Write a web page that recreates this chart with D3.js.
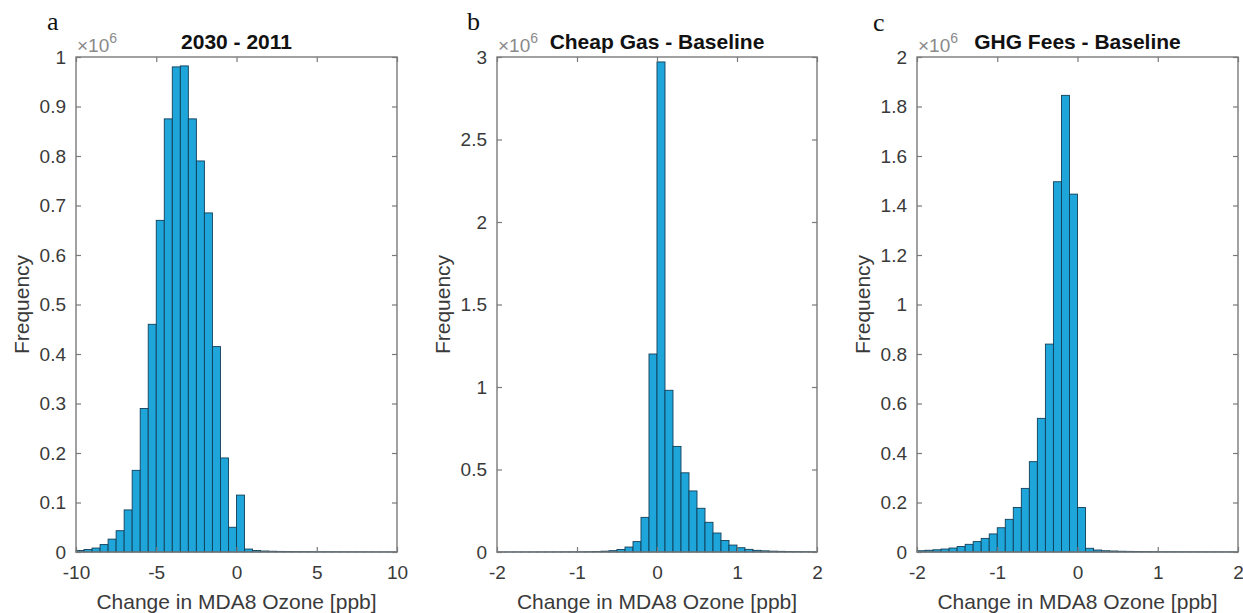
<!DOCTYPE html>
<html><head><meta charset="utf-8">
<script src="https://cdn.jsdelivr.net/npm/d3@7"></script>
<style>body{margin:0;background:#fff} svg{display:block}</style>
</head><body>
<svg id="chart" width="1243" height="613"></svg>
<script>
// ---------- data ----------
const panelLetters = ["a", "b", "c"];
const titles = ["2030 - 2011", "Cheap Gas - Baseline", "GHG Fees - Baseline"];
const xLabel = "Change in MDA8 Ozone [ppb]";
const yLabel = "Frequency";
const yExponent = "6";

const xDomainA = [-10, 10];
const xDomainB = [-2, 2];
const xDomainC = [-2, 2];
const yDomainA = [0, 1];
const yDomainB = [0, 3];
const yDomainC = [0, 2];

const xTicksA = [-10, -5, 0, 5, 10];
const xTicksB = [-2, -1, 0, 1, 2];
const xTicksC = [-2, -1, 0, 1, 2];
const yTicksA = [0, 0.1, 0.2, 0.3, 0.4, 0.5, 0.6, 0.7, 0.8, 0.9, 1];
const yTicksB = [0, 0.5, 1, 1.5, 2, 2.5, 3];
const yTicksC = [0, 0.2, 0.4, 0.6, 0.8, 1, 1.2, 1.4, 1.6, 1.8, 2];

// bin left edges
const binStartsA = [-10, -9.5, -9, -8.5, -8, -7.5, -7, -6.5, -6, -5.5, -5, -4.5, -4, -3.5, -3, -2.5, -2, -1.5, -1, -0.5,
  0, 0.5, 1, 1.5, 2, 2.5, 3, 3.5, 4, 4.5, 5, 5.5, 6, 6.5, 7, 7.5, 8, 8.5, 9, 9.5];
const binWidthA = 0.5;
const binStartsBC = [-2, -1.9, -1.8, -1.7, -1.6, -1.5, -1.4, -1.3, -1.2, -1.1, -1, -0.9, -0.8, -0.7, -0.6, -0.5, -0.4, -0.3, -0.2, -0.1,
  0, 0.1, 0.2, 0.3, 0.4, 0.5, 0.6, 0.7, 0.8, 0.9, 1, 1.1, 1.2, 1.3, 1.4, 1.5, 1.6, 1.7, 1.8, 1.9];
const binWidthBC = 0.1;

// frequencies (x10^6)
const countsA = [0.003, 0.005, 0.008, 0.015, 0.026, 0.043, 0.085, 0.165, 0.29, 0.46, 0.67, 0.875, 0.98, 0.982, 0.875, 0.79, 0.685, 0.415, 0.19, 0.05,
  0.115, 0.006, 0.003, 0.002, 0.0015, 0.0012, 0.001, 0.0009, 0.0008, 0.0007, 0.0006, 0.0005, 0.0005, 0.0004, 0.0004, 0.0003, 0.0003, 0.0002, 0.0002, 0.0002];
const countsB = [0.0003, 0.0003, 0.0004, 0.0004, 0.0005, 0.0006, 0.0007, 0.0008, 0.001, 0.0012, 0.0015, 0.002, 0.003, 0.005, 0.008, 0.015, 0.03, 0.063, 0.21, 1.2,
  2.97, 0.98, 0.64, 0.48, 0.37, 0.265, 0.18, 0.115, 0.07, 0.042, 0.026, 0.016, 0.01, 0.007, 0.005, 0.004, 0.003, 0.0025, 0.002, 0.0015];
const countsC = [0.005, 0.007, 0.009, 0.012, 0.016, 0.022, 0.031, 0.042, 0.055, 0.073, 0.098, 0.132, 0.18, 0.257, 0.365, 0.54, 0.84, 1.496, 1.845, 1.446,
  0.18, 0.015, 0.008, 0.005, 0.004, 0.003, 0.0025, 0.002, 0.0018, 0.0015, 0.0012, 0.001, 0.001, 0.0008, 0.0008, 0.0007, 0.0006, 0.0006, 0.0005, 0.0005];

// ---------- layout ----------
const panels = [
  {letter: panelLetters[0], title: titles[0], xDomain: xDomainA, yDomain: yDomainA, xTicks: xTicksA, yTicks: yTicksA, starts: binStartsA, width: binWidthA, counts: countsA, x0: 76, x1: 397, lx: 47, ly: 30},
  {letter: panelLetters[1], title: titles[1], xDomain: xDomainB, yDomain: yDomainB, xTicks: xTicksB, yTicks: yTicksB, starts: binStartsBC, width: binWidthBC, counts: countsB, x0: 497, x1: 817, lx: 467, ly: 30},
  {letter: panelLetters[2], title: titles[2], xDomain: xDomainC, yDomain: yDomainC, xTicks: xTicksC, yTicks: yTicksC, starts: binStartsBC, width: binWidthBC, counts: countsC, x0: 917, x1: 1238, lx: 873, ly: 31}
];
const yTop = 57, yBot = 552;
const axisColor = "#7a7a7a", textColor = "#3a3a3a";
const font = "'Liberation Sans', Arial, Helvetica, sans-serif";

const svg = d3.select("#chart");

panels.forEach(p => {
  const x = d3.scaleLinear().domain(p.xDomain).range([p.x0, p.x1]);
  const y = d3.scaleLinear().domain(p.yDomain).range([yBot, yTop]);
  const g = svg.append("g");

  const bins = p.starts.map((s, i) => ({x0: s, x1: s + p.width, v: p.counts[i]}));
  g.selectAll("rect.bar").data(bins).join("rect")
    .attr("class", "bar")
    .attr("x", d => x(d.x0))
    .attr("width", d => x(d.x1) - x(d.x0))
    .attr("y", d => y(d.v))
    .attr("height", d => yBot - y(d.v))
    .attr("fill", "#1ea5da")
    .attr("stroke", "#123f58")
    .attr("stroke-width", 0.9);

  // axes (ticks inward, mirrored on all four sides)
  const tl = 5;
  const bottom = g.append("g").attr("transform", `translate(0,${yBot})`)
    .call(d3.axisBottom(x).tickValues(p.xTicks).tickSize(-tl).tickPadding(14).tickFormat(d => String(d)));
  const top = g.append("g").attr("transform", `translate(0,${yTop})`)
    .call(d3.axisTop(x).tickValues(p.xTicks).tickSize(-tl).tickFormat(""));
  const left = g.append("g").attr("transform", `translate(${p.x0},0)`)
    .call(d3.axisLeft(y).tickValues(p.yTicks).tickSize(-tl).tickPadding(10).tickFormat(d => String(d)));
  const right = g.append("g").attr("transform", `translate(${p.x1},0)`)
    .call(d3.axisRight(y).tickValues(p.yTicks).tickSize(-tl).tickFormat(""));
  [bottom, top, left, right].forEach(a => {
    a.select(".domain").remove();
    a.selectAll(".tick line").attr("stroke", axisColor).attr("stroke-width", 1.2);
    a.selectAll("text").attr("fill", textColor).style("font-family", font).style("font-size", "19px");
  });
  g.append("rect").attr("x", p.x0).attr("y", yTop).attr("width", p.x1 - p.x0).attr("height", yBot - yTop)
    .attr("fill", "none").attr("stroke", axisColor).attr("stroke-width", 1.4);

  // title
  g.append("text").attr("x", (p.x0 + p.x1) / 2).attr("y", 49).attr("text-anchor", "middle")
    .style("font-family", font).style("font-size", "21px").style("font-weight", "bold").attr("fill", "#111")
    .text(p.title);
  // exponent
  const ex = g.append("text").attr("x", p.x0 + 1).attr("y", 52)
    .style("font-family", font).style("font-size", "19px").attr("fill", "#8a8a8a");
  ex.append("tspan").text("×10");
  ex.append("tspan").attr("dy", -9).style("font-size", "14px").text(yExponent);
  // axis labels
  g.append("text").attr("x", (p.x0 + p.x1) / 2).attr("y", 609).attr("text-anchor", "middle")
    .style("font-family", font).style("font-size", "21px").attr("fill", textColor).text(xLabel);
  g.append("text").attr("transform", `translate(${p.x0 - 47},${(yTop + yBot) / 2}) rotate(-90)`)
    .attr("text-anchor", "middle")
    .style("font-family", font).style("font-size", "21px").attr("fill", textColor).text(yLabel);
  // panel letter
  g.append("text").attr("x", p.lx).attr("y", p.ly)
    .style("font-family", "'Liberation Serif', 'Times New Roman', serif").style("font-size", "26px").attr("fill", "#111")
    .text(p.letter);
});
</script>
</body></html>
